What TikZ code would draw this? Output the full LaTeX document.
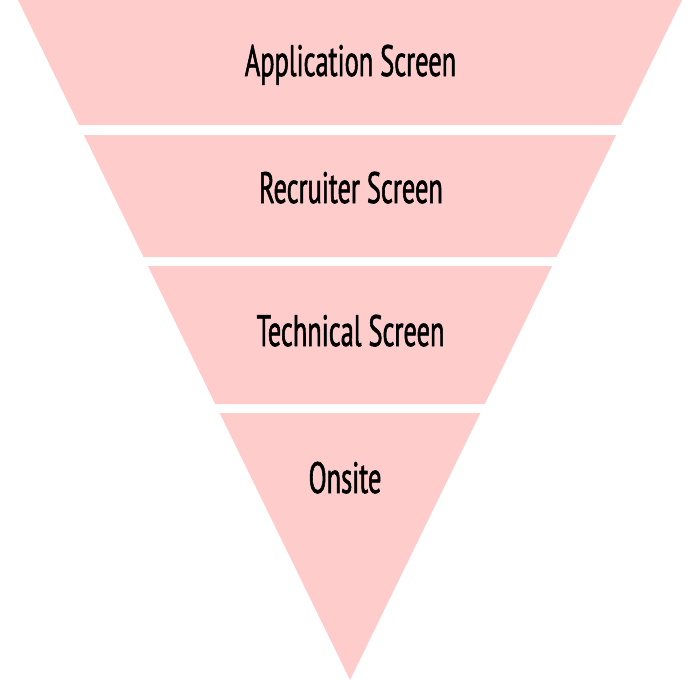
\documentclass[tikz,border=0pt]{standalone}
\usepackage{fontspec}
\newfontfamily\handfont[FakeStretch=0.6, FakeBold=1.2]{PT Sans}
\definecolor{funnelpink}{RGB}{255,204,204}
\tikzset{
  band/.style={fill=funnelpink, draw=none},
  stage/.style={font=\handfont\fontsize{44}{48}\selectfont, text=black, anchor=base, inner sep=0pt}
}

\begin{document}
\begin{tikzpicture}[x=1pt,y=-1pt]
\useasboundingbox (0,0) rectangle (700,681);

\fill [band] (18,0) -- (682,0) -- (621,125) -- (79,125) -- cycle;
\fill [band] (83.9,135) -- (616.1,135) -- (556.5,257) -- (143.5,257) -- cycle;
\fill [band] (147.9,266) -- (552.1,266) -- (484.8,404) -- (215.2,404) -- cycle;
\fill [band] (219.6,413) -- (480.4,413) -- (350,680) -- cycle;

\node [stage] (application) at (350.5,76) {Application Screen};
\node [stage] (recruiter) at (351,203) {Recruiter Screen};
\node [stage] (technical) at (350.5,346) {Technical Screen};
\node [stage] (onsite) at (345,493) {Onsite};

\end{tikzpicture}
\end{document}
